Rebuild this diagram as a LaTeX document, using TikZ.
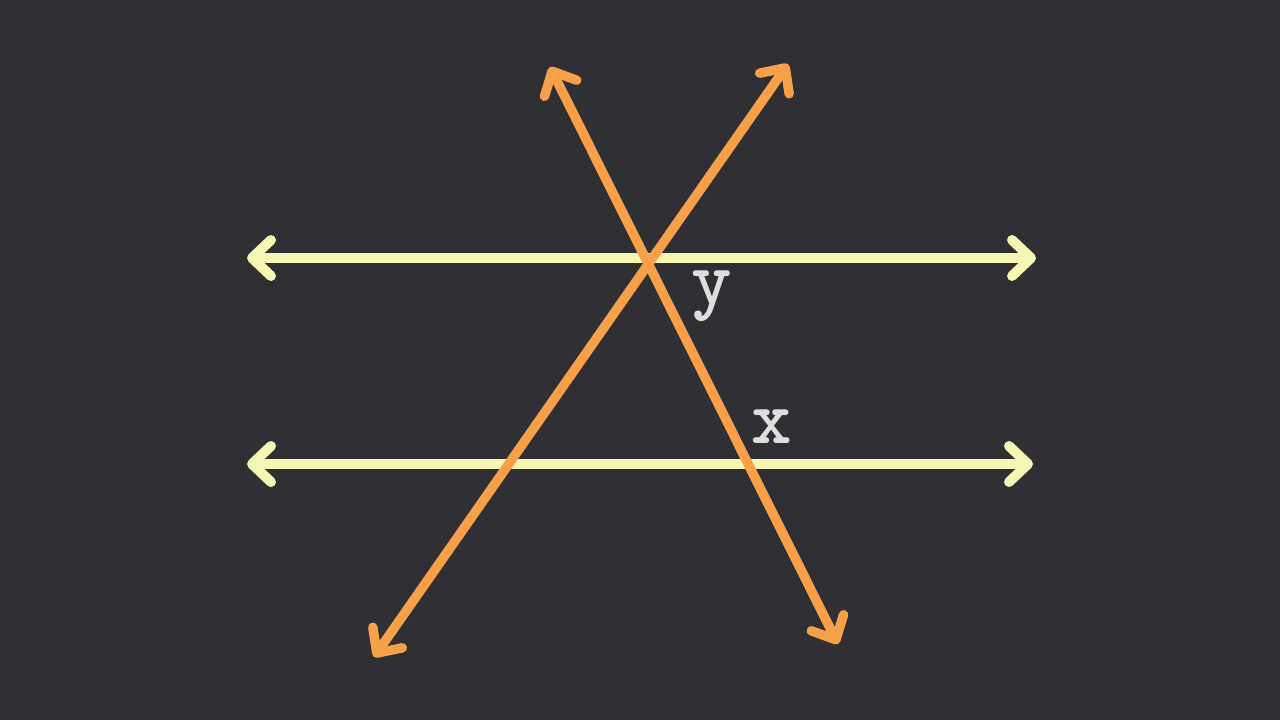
\documentclass[tikz,border=0pt]{standalone}
\usepackage{fontspec}
\usetikzlibrary{arrows.meta}
\definecolor{board}{HTML}{302F33}
\definecolor{chalkyellow}{HTML}{F4F6B2}
\definecolor{chalkorange}{HTML}{F6A14A}
\definecolor{chalkwhite}{HTML}{DEDEDE}
\tikzset{
  parallel/.style={chalkyellow, line width=0.2cm, <->},
  transversal/.style={chalkorange, line width=0.19cm, <->},
  angle label/.style={text=chalkwhite, inner sep=0pt,
    font=\fontsize{44}{44}\selectfont\ttfamily\bfseries}
}

\begin{document}
\begin{tikzpicture}[x=0.02cm, y=-0.02cm,
    >={Straight Barb[length=0.38cm, width=0.72cm, round]}]
    \fill[board] (0,0) rectangle (1280,720);
    \useasboundingbox (0,0) rectangle (1280,720);

    % ends of the two parallel lines
    \coordinate (top-w) at (247,258);
    \coordinate (top-e) at (1036,258);
    \coordinate (bot-w) at (247,464);
    \coordinate (bot-e) at (1033,464);

    % ends of the two transversals
    \coordinate (rise-s) at (374,657);
    \coordinate (rise-n) at (788,64);
    \coordinate (fall-n) at (550,67);
    \coordinate (fall-s) at (838,644);

    \draw[parallel] (top-w) -- (top-e);
    \draw[parallel] (bot-w) -- (bot-e);

    \draw[transversal] (rise-s) -- (rise-n);
    \draw[transversal] (fall-n) -- (fall-s);

    \node[angle label] (y) at (712,296) {y};
    \node[angle label] (x) at (772,427) {x};
\end{tikzpicture}
\end{document}
